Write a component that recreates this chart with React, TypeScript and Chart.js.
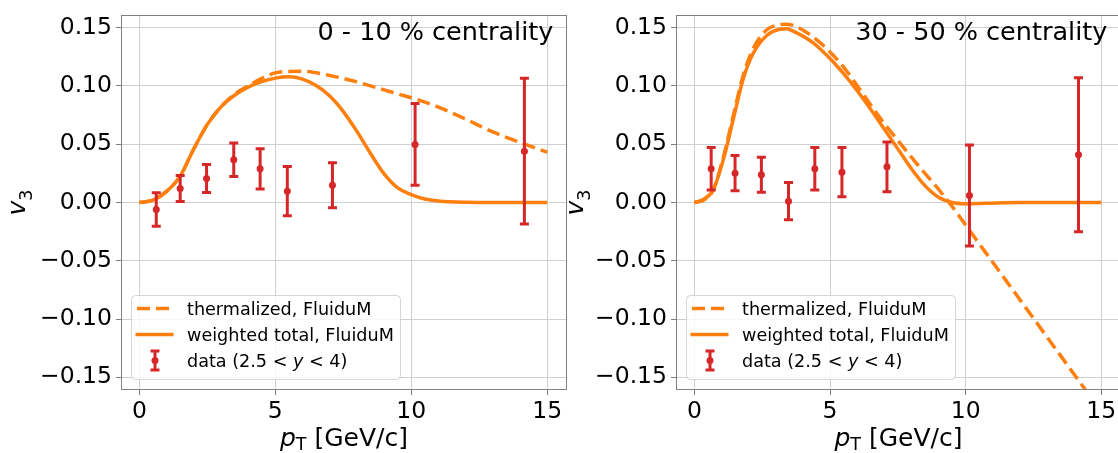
import React, { useEffect, useRef } from "react";
import { Chart, registerables } from "chart.js";

Chart.register(...registerables);

// ---------- data ----------
const xTickValues = [0, 5, 10, 15];
const xTickLabels = ["0", "5", "10", "15"];
const yTickValues = [-0.15, -0.1, -0.05, 0, 0.05, 0.1, 0.15];
const yTickLabels = ["\u22120.15", "\u22120.10", "\u22120.05", "0.00", "0.05", "0.10", "0.15"];

const legendLabels = ["thermalized, FluiduM", "weighted total, FluiduM", "data (2.5 < y < 4)"];
const leftTitle = "0 - 10 % centrality";
const rightTitle = "30 - 50 % centrality";

// measured pT of the data points
const dataPt = [0.62, 1.5, 2.47, 3.47, 4.44, 5.44, 7.1, 10.14, 14.16];

// 0-10 % panel
const leftDataV3 = [-0.006, 0.012, 0.0206, 0.0367, 0.0289, 0.0097, 0.0149, 0.0498, 0.044];
const leftDataErr = [0.0143, 0.0112, 0.012, 0.0144, 0.0173, 0.0211, 0.0193, 0.0351, 0.0625];
const leftThermPt = [0, 0.5, 1.0, 1.5, 2.0, 2.5, 3.0, 3.5, 4.0, 4.5, 5.0, 5.5, 6.0, 6.5, 7.0, 7.5, 8.0, 8.5, 9.0, 9.5, 10.0, 11.0, 12.0, 13.0, 14.0, 15.0];
const leftThermV3 = [0, 0.002, 0.0095, 0.0226, 0.046, 0.067, 0.082, 0.093, 0.1, 0.1065, 0.1112, 0.1124, 0.1127, 0.1113, 0.109, 0.1064, 0.1035, 0.1, 0.0966, 0.0932, 0.0899, 0.0818, 0.0715, 0.0605, 0.0515, 0.0432];
const leftTotalPt = [0, 0.5, 1.0, 1.5, 2.0, 2.5, 3.0, 3.5, 4.0, 4.5, 5.0, 5.5, 6.0, 6.5, 7.0, 7.5, 8.0, 8.5, 9.0, 9.5, 10.0, 10.5, 11.0, 12.0, 13.0, 14.0, 15.0];
const leftTotalV3 = [0, 0.002, 0.0095, 0.0226, 0.046, 0.067, 0.082, 0.092, 0.099, 0.1037, 0.1067, 0.1078, 0.1058, 0.1003, 0.0913, 0.078, 0.061, 0.042, 0.0245, 0.0125, 0.0068, 0.003, 0.0013, 0.0002, 0, 0, 0];

// 30-50 % panel
const rightDataV3 = [0.0289, 0.0252, 0.0238, 0.0011, 0.0289, 0.026, 0.0306, 0.006, 0.041];
const rightDataErr = [0.0182, 0.0152, 0.015, 0.016, 0.0182, 0.0211, 0.0213, 0.0434, 0.066];
const rightThermPt = [0, 0.33, 0.7, 1.07, 1.43, 1.8, 2.17, 2.66, 3.15, 3.35, 3.64, 4.38, 5.36, 6.09, 6.83, 7.56, 8.3, 9.03, 9.52, 10.26, 11.24, 12.22, 13.2, 14.3, 15.0];
const rightThermV3 = [0, 0.002, 0.011, 0.039, 0.074, 0.109, 0.132, 0.148, 0.1525, 0.153, 0.152, 0.142, 0.1202, 0.0973, 0.073, 0.0515, 0.0305, 0.0105, -0.004, -0.0277, -0.059, -0.0904, -0.1218, -0.157, -0.179];
const rightTotalPt = [0, 0.33, 0.7, 1.07, 1.43, 1.8, 2.17, 2.66, 3.15, 3.4, 3.64, 4.38, 5.0, 5.5, 6.0, 6.5, 7.0, 7.5, 8.0, 8.5, 9.0, 9.5, 10.0, 10.75, 12.0, 13.0, 15.0];
const rightTotalV3 = [0, 0.0026, 0.011, 0.037, 0.071, 0.106, 0.128, 0.143, 0.1486, 0.149, 0.147, 0.137, 0.1235, 0.1105, 0.096, 0.08, 0.063, 0.046, 0.029, 0.0145, 0.0045, 0.0, -0.001, -0.0006, 0, 0, 0];

// ---------- style ----------
const FAMILY = "'DejaVu Sans'";
const ORANGE = "#ff7f0e";
const RED = "#d62728";
const GRID = "#cfcfcf";
const FRAME = "#808080";

type PanelProps = {
  canvasLeft: number;
  canvasWidth: number;
  yAxisWidth: number;
  padRight: number;
  yLabelX: number;
  title: string;
  thermPt: number[];
  thermV3: number[];
  totalPt: number[];
  totalV3: number[];
  dataV3: number[];
  dataErr: number[];
};

function Panel(p: PanelProps) {
  const ref = useRef<HTMLCanvasElement>(null);

  useEffect(() => {
    const canvas = ref.current!;
    const font = (size: number, style = "normal") => `${style} ${size}px ${FAMILY}`;

    const panelPlugin = {
      id: "panelDecor",
      beforeDatasetDraw(chart: any, args: any) {
        if (args.index !== 0) return;
        const { ctx, chartArea: ca, scales } = chart;
        const xs = scales.x, ys = scales.y;
        ctx.save();
        ctx.beginPath();
        ctx.rect(ca.left, ca.top, ca.right - ca.left, ca.bottom - ca.top);
        ctx.clip();
        ctx.strokeStyle = RED;
        ctx.lineWidth = 3;
        ctx.lineCap = "butt";
        dataPt.forEach((x, i) => {
          const px = xs.getPixelForValue(x);
          const y1 = ys.getPixelForValue(p.dataV3[i] + p.dataErr[i]);
          const y2 = ys.getPixelForValue(p.dataV3[i] - p.dataErr[i]);
          ctx.beginPath();
          ctx.moveTo(px, y1);
          ctx.lineTo(px, y2);
          ctx.moveTo(px - 4.5, y1);
          ctx.lineTo(px + 4.5, y1);
          ctx.moveTo(px - 4.5, y2);
          ctx.lineTo(px + 4.5, y2);
          ctx.stroke();
        });
        ctx.restore();
      },
      afterDraw(chart: any) {
        const { ctx, chartArea: ca } = chart;
        ctx.save();
        // frame
        ctx.strokeStyle = FRAME;
        ctx.lineWidth = 1;
        ctx.strokeRect(Math.round(ca.left) - 0.5, Math.round(ca.top) - 0.5, Math.round(ca.right - ca.left) + 1, Math.round(ca.bottom - ca.top) + 1);

        // title inside axes
        ctx.fillStyle = "#000";
        ctx.font = font(25.5);
        ctx.textAlign = "right";
        ctx.textBaseline = "alphabetic";
        ctx.fillText(p.title, ca.right - 12.7, ca.top + 24);

        // legend
        const lx = ca.left + 9;
        const lw = 269;
        const lh = 84;
        const ly = ca.bottom - 10 - lh;
        ctx.beginPath();
        if ((ctx as any).roundRect) (ctx as any).roundRect(lx + 0.5, ly + 0.5, lw, lh, 4);
        else ctx.rect(lx + 0.5, ly + 0.5, lw, lh);
        ctx.fillStyle = "rgba(255,255,255,0.8)";
        ctx.fill();
        ctx.strokeStyle = "rgba(204,204,204,0.8)";
        ctx.lineWidth = 1;
        ctx.stroke();

        const baselines = [ly + 20, ly + 46, ly + 72];
        const hx0 = lx + 6, hx1 = lx + 41;
        // dashed handle
        ctx.strokeStyle = ORANGE;
        ctx.lineWidth = 3.5;
        ctx.setLineDash([13, 6]);
        ctx.beginPath();
        ctx.moveTo(hx0, baselines[0] - 6.5);
        ctx.lineTo(hx1, baselines[0] - 6.5);
        ctx.stroke();
        // solid handle
        ctx.setLineDash([]);
        ctx.beginPath();
        ctx.moveTo(hx0 - 1.5, baselines[1] - 6.5);
        ctx.lineTo(hx1 + 1.5, baselines[1] - 6.5);
        ctx.stroke();
        // errorbar handle
        const ex = lx + 24, ey = baselines[2] - 6.5;
        ctx.strokeStyle = RED;
        ctx.lineWidth = 3;
        ctx.beginPath();
        ctx.moveTo(ex, ey - 9.5);
        ctx.lineTo(ex, ey + 9.5);
        ctx.moveTo(ex - 4.5, ey - 9.5);
        ctx.lineTo(ex + 4.5, ey - 9.5);
        ctx.moveTo(ex - 4.5, ey + 9.5);
        ctx.lineTo(ex + 4.5, ey + 9.5);
        ctx.stroke();
        ctx.fillStyle = RED;
        ctx.beginPath();
        ctx.arc(ex, ey, 3.5, 0, Math.PI * 2);
        ctx.fill();

        // legend texts
        const tx = lx + 56;
        ctx.fillStyle = "#000";
        ctx.textAlign = "left";
        ctx.font = font(17.6);
        ctx.fillText(legendLabels[0], tx, baselines[0]);
        ctx.fillText(legendLabels[1], tx, baselines[1]);
        // third label with italic y
        const lab = legendLabels[2];
        const yi = lab.indexOf(" y ");
        const part1 = lab.slice(0, yi + 1);
        const part2 = "y";
        const part3 = lab.slice(yi + 2);
        let cx = tx;
        ctx.font = font(17.6);
        ctx.fillText(part1, cx, baselines[2]);
        cx += ctx.measureText(part1).width;
        ctx.font = font(17.6, "italic");
        ctx.fillText(part2, cx, baselines[2]);
        cx += ctx.measureText(part2).width;
        ctx.font = font(17.6);
        ctx.fillText(part3, cx, baselines[2]);

        // y axis label: v_3
        const cyMid = (ca.top + ca.bottom) / 2;
        ctx.save();
        ctx.translate(p.yLabelX, cyMid);
        ctx.rotate(-Math.PI / 2);
        ctx.font = font(25, "italic");
        const vw = ctx.measureText("v").width;
        ctx.font = font(17.5);
        const sw = ctx.measureText("3").width;
        const tot = vw + sw;
        ctx.textAlign = "left";
        ctx.font = font(25, "italic");
        ctx.fillText("v", -tot / 2, 0);
        ctx.font = font(17.5);
        ctx.fillText("3", -tot / 2 + vw, 7);
        ctx.restore();

        // x axis label: p_T [GeV/c]
        ctx.font = font(25, "italic");
        const pw = ctx.measureText("p").width;
        ctx.font = font(17.5);
        const tw = ctx.measureText("T").width;
        ctx.font = font(25);
        const restStr = " [GeV/c]";
        const rw = ctx.measureText(restStr).width;
        const total = pw + tw + rw;
        const xMid = (ca.left + ca.right) / 2;
        let xx = xMid - total / 2;
        const base = 446;
        ctx.textAlign = "left";
        ctx.font = font(25, "italic");
        ctx.fillText("p", xx, base);
        xx += pw;
        ctx.font = font(17.5);
        ctx.fillText("T", xx, base + 4);
        xx += tw;
        ctx.font = font(25);
        ctx.fillText(restStr, xx, base);

        ctx.restore();
      },
    };

    const chart = new Chart(canvas, {
      type: "line",
      data: {
        datasets: [
          {
            label: "data",
            data: dataPt.map((x, i) => ({ x, y: p.dataV3[i] })),
            showLine: false,
            pointRadius: 3.5,
            pointBackgroundColor: RED,
            pointBorderWidth: 0,
            borderColor: RED,
            order: 0,
          },
          {
            label: "weighted total, FluiduM",
            data: p.totalPt.map((x, i) => ({ x, y: p.totalV3[i] })),
            borderColor: ORANGE,
            borderWidth: 3.5,
            pointRadius: 0,
            cubicInterpolationMode: "monotone",
            fill: false,
            order: 1,
          },
          {
            label: "thermalized, FluiduM",
            data: p.thermPt.map((x, i) => ({ x, y: p.thermV3[i] })),
            borderColor: ORANGE,
            borderWidth: 3.5,
            borderDash: [13, 6],
            pointRadius: 0,
            cubicInterpolationMode: "monotone",
            fill: false,
            order: 2,
          },
        ] as any,
      },
      options: {
        animation: false,
        responsive: false,
        devicePixelRatio: 1,
        events: [],
        layout: { padding: { left: 0, top: 16, right: p.padRight, bottom: 0 } },
        plugins: {
          legend: { display: false },
          tooltip: { enabled: false },
          title: { display: false },
        },
        scales: {
          x: {
            type: "linear",
            min: -0.64,
            max: 15.69,
            afterBuildTicks: (s: any) => {
              s.ticks = xTickValues.map((v) => ({ value: v }));
            },
            afterFit: (s: any) => {
              s.height = 64;
              s.paddingLeft = 0;
              s.paddingRight = 0;
              s.paddingTop = 0;
              s.paddingBottom = 0;
            },
            ticks: {
              callback: (v: any) => xTickLabels[xTickValues.indexOf(Number(v))] ?? "",
              font: { family: FAMILY, size: 23.5 },
              color: "#000",
              padding: 3,
              maxRotation: 0,
              autoSkip: false,
            },
            grid: { color: GRID, lineWidth: 1, tickLength: 6, tickColor: FRAME, tickWidth: 1 },
            border: { display: false },
          },
          y: {
            type: "linear",
            min: -0.16,
            max: 0.16,
            afterBuildTicks: (s: any) => {
              s.ticks = yTickValues.map((v) => ({ value: v }));
            },
            afterFit: (s: any) => {
              s.width = p.yAxisWidth;
              s.paddingLeft = 0;
              s.paddingRight = 0;
              s.paddingTop = 0;
              s.paddingBottom = 0;
            },
            ticks: {
              callback: (v: any) => {
                const idx = yTickValues.findIndex((t) => Math.abs(t - Number(v)) < 1e-9);
                return idx >= 0 ? yTickLabels[idx] : "";
              },
              font: { family: FAMILY, size: 23.5 },
              color: "#000",
              padding: 4,
              autoSkip: false,
            },
            grid: { color: GRID, lineWidth: 1, tickLength: 6, tickColor: FRAME, tickWidth: 1 },
            border: { display: false },
          },
        },
      } as any,
      plugins: [panelPlugin as any],
    });

    return () => chart.destroy();
  }, []);

  return (
    <canvas
      ref={ref}
      width={p.canvasWidth}
      height={453}
      style={{ position: "absolute", left: p.canvasLeft, top: 0, width: p.canvasWidth, height: 453 }}
    />
  );
}

export default function App() {
  return (
    <div
      style={{
        position: "fixed",
        left: 0,
        top: 0,
        width: 1118,
        height: 453,
        overflow: "hidden",
        background: "#ffffff",
      }}
    >
      <Panel
        canvasLeft={0}
        canvasWidth={570}
        yAxisWidth={122}
        padRight={4}
        yLabelX={25}
        title={leftTitle}
        thermPt={leftThermPt}
        thermV3={leftThermV3}
        totalPt={leftTotalPt}
        totalV3={leftTotalV3}
        dataV3={leftDataV3}
        dataErr={leftDataErr}
      />
      <Panel
        canvasLeft={560}
        canvasWidth={564}
        yAxisWidth={117}
        padRight={3}
        yLabelX={23}
        title={rightTitle}
        thermPt={rightThermPt}
        thermV3={rightThermV3}
        totalPt={rightTotalPt}
        totalV3={rightTotalV3}
        dataV3={rightDataV3}
        dataErr={rightDataErr}
      />
    </div>
  );
}
